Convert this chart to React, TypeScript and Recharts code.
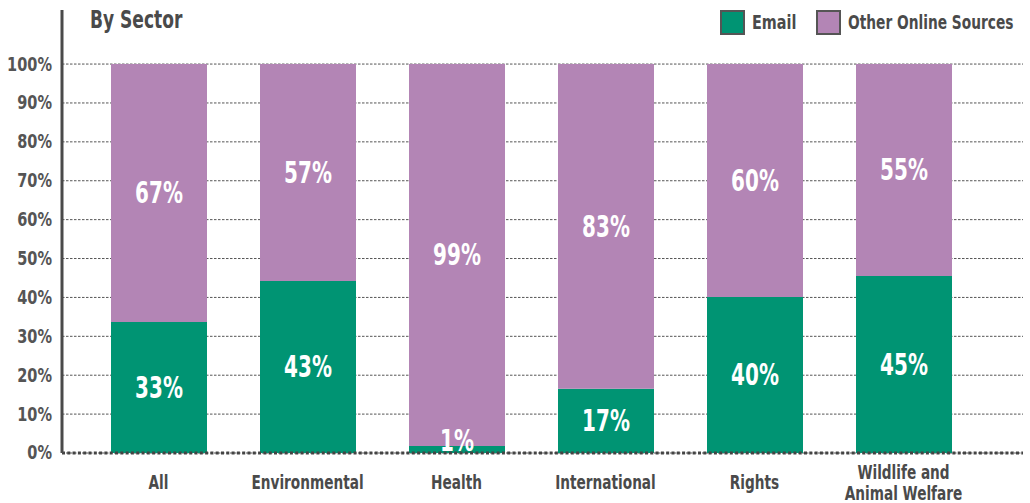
import React from "react";
import { BarChart, Bar, XAxis, YAxis, CartesianGrid, LabelList } from "recharts";

const sectors = ["All", "Environmental", "Health", "International", "Rights", "Wildlife and\nAnimal Welfare"];
const emailShare = [33.7, 44.2, 1.8, 16.5, 40.1, 45.5];
const otherShare = [66.3, 55.8, 98.2, 83.5, 59.9, 54.5];
const emailLabels = ["33%", "43%", "1%", "17%", "40%", "45%"];
const otherLabels = ["67%", "57%", "99%", "83%", "60%", "55%"];
const yTicks = [0, 10, 20, 30, 40, 50, 60, 70, 80, 90, 100];
const Y_MAX = 113.9; // axis line runs a bit above the 100% line

const series = [
  { key: "email", label: "emailLabel", name: "Email", color: "#009473", left: 720, textLeft: 752, sx: 0.8 },
  { key: "other", label: "otherLabel", name: "Other Online Sources", color: "#b385b5", left: 816, textLeft: 848, sx: 0.765 },
];

// no narrow gothic available offline, so squeeze DejaVu Condensed horizontally
const FONT = "'DejaVu Sans Condensed', 'DejaVu Sans', sans-serif";
const INK = "#4a4a4a";

const data = sectors.map((name, i) => ({
  name,
  email: emailShare[i],
  other: otherShare[i],
  emailLabel: emailLabels[i],
  otherLabel: otherLabels[i],
}));

function BarValue(props: any) {
  const { x, y, width, height, value } = props;
  // tiny segments get their label nudged up so it stays readable
  const cy = height < 24 ? y + height - 12 : y + height / 2;
  return (
    <text
      transform={`translate(${x + width / 2},${cy}) scale(0.74,1)`}
      textAnchor="middle"
      dominantBaseline="central"
      fill="#fff"
      fontFamily={FONT}
      fontWeight="bold"
      fontSize={30}
    >
      {value}
    </text>
  );
}

function SectorTick({ x, y, payload }: any) {
  const lines = String(payload.value).split("\n");
  const start = lines.length > 1 ? 17 : 27;
  return (
    <g>
      {lines.map((ln, i) => (
        <text
          key={i}
          transform={`translate(${x},${y + start + i * 21}) scale(0.8,1)`}
          textAnchor="middle"
          dominantBaseline="central"
          fill={INK}
          fontFamily={FONT}
          fontWeight="bold"
          fontSize={19}
        >
          {ln}
        </text>
      ))}
    </g>
  );
}

function PctTick({ x, y, payload }: any) {
  return (
    <text
      transform={`translate(${x},${y}) scale(0.85,1)`}
      textAnchor="end"
      dominantBaseline="central"
      fill="#555"
      fontFamily={FONT}
      fontWeight="bold"
      fontSize={19}
    >
      {payload.value}%
    </text>
  );
}

const squeeze = (sx: number): React.CSSProperties => ({
  position: "absolute",
  whiteSpace: "nowrap",
  transform: `scaleX(${sx})`,
  transformOrigin: "left center",
  fontFamily: FONT,
  fontWeight: "bold",
  color: INK,
  lineHeight: 1,
});

export default function App() {
  return (
    <div style={{ position: "absolute", left: 0, top: 0, width: 1030, height: 503, background: "#fff" }}>
      <div style={{ ...squeeze(0.79), left: 90, top: 8, fontSize: 24 }}>By Sector</div>
      {series.map((s) => (
        <React.Fragment key={s.key}>
          <div
            style={{
              position: "absolute",
              left: s.left,
              top: 10,
              width: 21,
              height: 21,
              background: s.color,
              border: "2px solid #555",
            }}
          />
          <div style={{ ...squeeze(s.sx), left: s.textLeft, top: 12, fontSize: 20 }}>{s.name}</div>
        </React.Fragment>
      ))}
      <BarChart
        width={1030}
        height={503}
        data={data}
        margin={{ top: 10, right: 7, bottom: 0, left: 0 }}
        barSize={96}
      >
        <CartesianGrid
          vertical={false}
          stroke="#555"
          strokeDasharray="2.5 1.5"
          horizontalCoordinatesGenerator={(p: any) =>
            yTicks.map((t) => p.offset.top + p.offset.height * (1 - t / Y_MAX))
          }
        />
        <XAxis
          dataKey="name"
          height={50}
          interval={0}
          padding={{ left: 22, right: 45 }}
          tickLine={false}
          tickSize={0}
          tick={<SectorTick />}
          axisLine={{ stroke: "#444", strokeWidth: 3, strokeDasharray: "3 2.3" }}
        />
        <YAxis
          width={62}
          domain={[0, Y_MAX]}
          ticks={yTicks}
          tickLine={false}
          tickSize={0}
          tickMargin={10}
          tick={<PctTick />}
          axisLine={{ stroke: INK, strokeWidth: 3 }}
        />
        {series.map((s) => (
          <Bar key={s.key} dataKey={s.key} stackId="a" fill={s.color} isAnimationActive={false}>
            <LabelList dataKey={s.label} content={<BarValue />} />
          </Bar>
        ))}
      </BarChart>
    </div>
  );
}
